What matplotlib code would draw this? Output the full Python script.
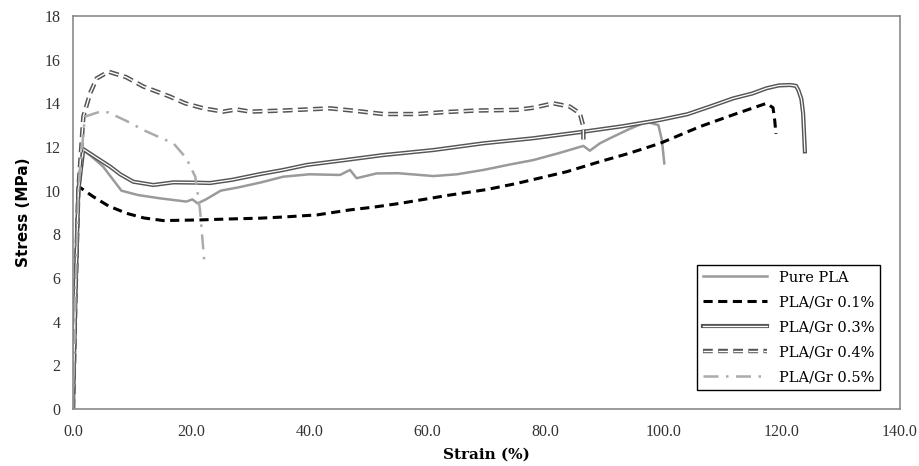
import matplotlib
matplotlib.use("Agg")
import matplotlib.pyplot as plt
import matplotlib.patheffects as pe

# Curvas tensão-deformação
strain_pla = [0, 0.4, 0.9, 1.5, 3.0, 5.1, 8.2, 11, 14.7, 19.2, 20.2, 21.1, 22.5, 25, 28, 31.7,
              35.6, 40, 45.2, 46.9, 48, 51.4, 55, 61, 65, 69.5, 74, 77.9, 82, 86.4, 87.5, 89.2,
              90.9, 94, 97.1, 99.1, 99.7, 100.1]
stress_pla = [0, 4.5, 9.5, 11.9, 11.6, 11.1, 10.0, 9.8, 9.65, 9.5, 9.6, 9.42, 9.6, 10.0, 10.15, 10.37,
              10.64, 10.75, 10.72, 10.95, 10.57, 10.79, 10.8, 10.67, 10.75, 10.95, 11.2, 11.4, 11.7, 12.05, 11.83, 12.17,
              12.4, 12.8, 13.16, 13.0, 12.3, 11.25]

strain_gr01 = [0, 0.4, 0.9, 3.4, 6, 9.1, 12, 15.3, 21.5, 26, 31.7, 36, 41.3, 46.9, 51, 55.4, 63.8,
               70, 75.1, 83.6, 89.2, 94, 99.4, 106.1, 112, 117.4, 118.5, 118.8, 119.0]
stress_gr01 = [0, 5, 10.2, 9.73, 9.3, 8.96, 8.75, 8.63, 8.66, 8.7, 8.74, 8.8, 8.89, 9.12, 9.25, 9.42, 9.8,
               10.05, 10.33, 10.87, 11.33, 11.7, 12.17, 12.93, 13.5, 14.0, 13.8, 13.2, 12.6]

strain_gr03 = [0, 0.4, 0.9, 1.75, 4, 6.3, 8, 10.2, 13.6, 17, 20.4, 23.2, 27, 31.7, 35.6, 39.6, 46,
               52.5, 61, 69.5, 77.9, 86.4, 93, 99.4, 104, 107.8, 111.8, 115, 117.4, 119.5, 121.4,
               122.4, 122.8, 123.3, 123.6, 123.9]
stress_gr03 = [0, 5, 10, 11.9, 11.5, 11.1, 10.75, 10.41, 10.26, 10.38, 10.37, 10.35, 10.5, 10.76, 10.95, 11.18, 11.4,
               11.63, 11.86, 12.17, 12.4, 12.7, 12.95, 13.24, 13.5, 13.85, 14.23, 14.45, 14.69, 14.82, 14.84,
               14.8, 14.6, 14.2, 13.54, 11.8]

strain_gr04 = [0, 0.4, 0.9, 1.75, 2.9, 4.0, 6.0, 9, 11.9, 16.4, 19, 22.1, 25.4, 27.7, 30, 35.6, 43.5,
               48, 52.5, 58.2, 63, 68.3, 75.1, 78, 81.3, 84.1, 85.8, 86.4, 86.4]
stress_gr04 = [0, 5, 10, 13.39, 14.46, 15.14, 15.45, 15.2, 14.77, 14.31, 14.0, 13.77, 13.62, 13.72, 13.62, 13.67, 13.77,
               13.65, 13.51, 13.51, 13.6, 13.67, 13.7, 13.8, 14.0, 13.85, 13.54, 12.93, 12.1]

strain_gr05 = [0, 0.4, 0.9, 2.0, 4.6, 6.0, 9, 11.9, 15, 17, 19.2, 20.7, 21.5, 22.2]
stress_gr05 = [0, 5, 10, 13.39, 13.62, 13.58, 13.2, 12.78, 12.4, 12.17, 11.48, 10.64, 9.12, 6.83]

fig = plt.figure(figsize=(9.19, 4.66), dpi=100)
ax = fig.add_axes([73/919, 1 - 409/466, 827/919, 393/466])

serif = ['DejaVu Serif']

ax.plot(strain_pla, stress_pla, color='#9a9a9a', lw=1.8, label='Pure PLA')
ax.plot(strain_gr01, stress_gr01, color='black', lw=2.2, dashes=(3, 1.8), label='PLA/Gr 0.1%')
# linha dupla (contorno escuro com centro branco)
ax.plot(strain_gr03, stress_gr03, color='#555555', lw=3.0, label='PLA/Gr 0.3%',
        path_effects=[pe.Normal(), pe.Stroke(linewidth=0.9, foreground='white')])
ax.plot(strain_gr04, stress_gr04, color='#555555', lw=3.2, dashes=(2.2, 1.2), label='PLA/Gr 0.4%',
        path_effects=[pe.Normal(), pe.Stroke(linewidth=1.0, foreground='white')])
ax.plot(strain_gr05, stress_gr05, color='#ababab', lw=1.8, dashes=(6, 3, 1, 3), label='PLA/Gr 0.5%')

ax.set_xlim(0, 140)
ax.set_ylim(0, 18)
ax.set_xticks(range(0, 141, 20))
ax.set_xticklabels([f'{v:.1f}' for v in range(0, 141, 20)])
ax.set_yticks(range(0, 19, 2))
ax.tick_params(length=0, labelsize=11.5, colors='#333333')
ax.tick_params(axis='x', pad=11)
ax.tick_params(axis='y', pad=9)
for lbl in ax.get_xticklabels() + ax.get_yticklabels():
    lbl.set_family(['Liberation Serif'])

for sp in ax.spines.values():
    sp.set_color('#8a8a8a')
    sp.set_linewidth(1.2)

ax.set_xlabel('Strain (%)', family=serif, fontweight='bold', fontsize=11, labelpad=5)
ax.set_ylabel('Stress (MPa)', family=['DejaVu Sans'], fontweight='bold', fontsize=11, labelpad=10)

leg = ax.legend(loc='lower right', bbox_to_anchor=(0.976, 0.048), borderaxespad=0,
                prop={'family': serif, 'size': 10.5}, handlelength=4.4, labelspacing=0.75,
                fancybox=False, edgecolor='black', framealpha=1)
leg.get_frame().set_linewidth(1.0)

fig.savefig('out.png', dpi=100)
